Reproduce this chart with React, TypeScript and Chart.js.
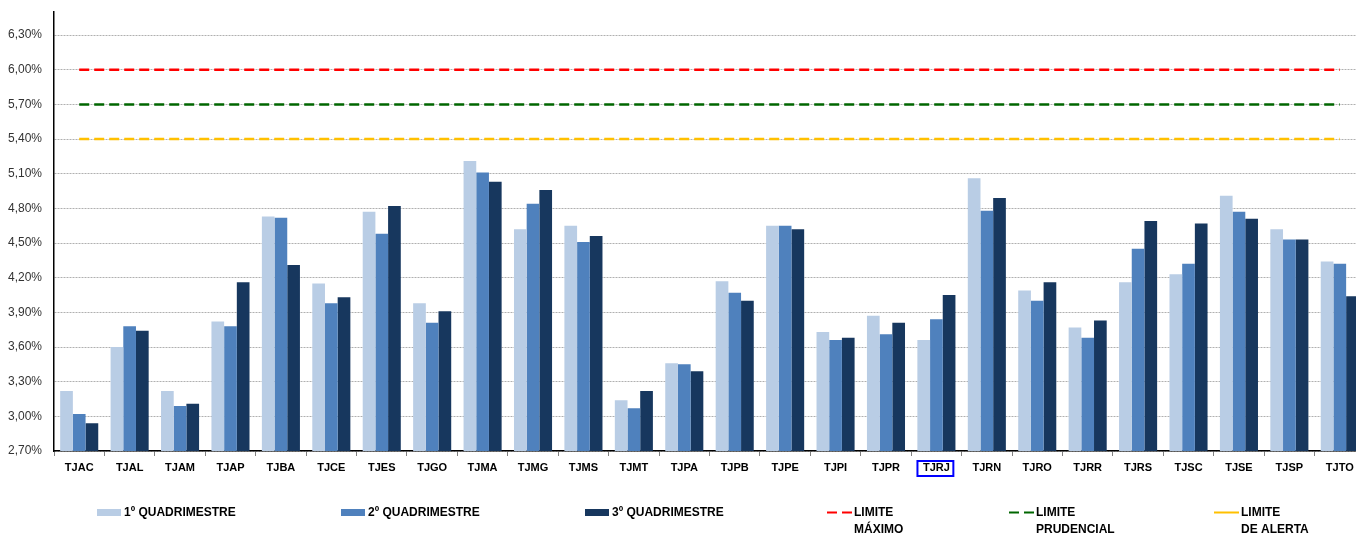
import React, { useEffect, useRef } from 'react';
import { Chart, registerables } from 'chart.js';

Chart.register(...registerables);

const categories = ['TJAC', 'TJAL', 'TJAM', 'TJAP', 'TJBA', 'TJCE', 'TJES', 'TJGO', 'TJMA', 'TJMG', 'TJMS', 'TJMT', 'TJPA', 'TJPB', 'TJPE', 'TJPI', 'TJPR', 'TJRJ', 'TJRN', 'TJRO', 'TJRR', 'TJRS', 'TJSC', 'TJSE', 'TJSP', 'TJTO'];
const q1 = [3.22, 3.60, 3.22, 3.82, 4.73, 4.15, 4.77, 3.98, 5.21, 4.62, 4.65, 3.14, 3.46, 4.17, 4.65, 3.73, 3.87, 3.66, 5.06, 4.09, 3.77, 4.16, 4.23, 4.91, 4.62, 4.34];
const q2 = [3.02, 3.78, 3.09, 3.78, 4.72, 3.98, 4.58, 3.81, 5.11, 4.84, 4.51, 3.07, 3.45, 4.07, 4.65, 3.66, 3.71, 3.84, 4.78, 4.00, 3.68, 4.45, 4.32, 4.77, 4.53, 4.32];
const q3 = [2.94, 3.74, 3.11, 4.16, 4.31, 4.03, 4.82, 3.91, 5.03, 4.96, 4.56, 3.22, 3.39, 4.00, 4.62, 3.68, 3.81, 4.05, 4.89, 4.16, 3.83, 4.69, 4.67, 4.71, 4.53, 4.04];
const limiteMaximo = 6.0;
const limitePrudencial = 5.7;
const limiteAlerta = 5.4;
const yTicks = [2.7, 3.0, 3.3, 3.6, 3.9, 4.2, 4.5, 4.8, 5.1, 5.4, 5.7, 6.0, 6.3];
const yMin = 2.7;
const yMax = 6.5;
const seriesLabels = ['1º QUADRIMESTRE', '2º QUADRIMESTRE', '3º QUADRIMESTRE'];
const limitLabels = [['LIMITE', 'MÁXIMO'], ['LIMITE', 'PRUDENCIAL'], ['LIMITE', 'DE ALERTA']];
const highlighted = 'TJRJ';

const barColors = ['#B9CDE5', '#4F81BD', '#17375E'];
const limitColors = ['#FF0000', '#006600', '#FFC000'];
const FONT = '"Liberation Sans", Arial, sans-serif';

const legendPlugin = {
  id: 'customLegend',
  afterDraw(chart: any) {
    const ctx = chart.ctx;
    ctx.save();
    ctx.font = `bold 12px ${FONT}`;
    ctx.textBaseline = 'middle';
    ctx.textAlign = 'left';
    ctx.fillStyle = '#000';
    const boxX = [97, 341, 585];
    seriesLabels.forEach((lab, i) => {
      ctx.fillStyle = barColors[i];
      ctx.fillRect(boxX[i], 509, 24, 7);
      ctx.fillStyle = '#000';
      ctx.fillText(lab, boxX[i] + 27, 513);
    });
    const lineX = [827, 1009, 1214];
    limitLabels.forEach((lab, i) => {
      ctx.strokeStyle = limitColors[i];
      ctx.lineWidth = 2;
      if (i < 2) ctx.setLineDash([10, 5]);
      else ctx.setLineDash([]);
      ctx.beginPath();
      ctx.moveTo(lineX[i], 512.5);
      ctx.lineTo(lineX[i] + 25, 512.5);
      ctx.stroke();
      ctx.setLineDash([]);
      ctx.fillStyle = '#000';
      ctx.fillText(lab[0], lineX[i] + 27, 513);
      ctx.fillText(lab[1], lineX[i] + 27, 530);
    });
    // highlight box around TJRJ
    const xs = chart.scales.x;
    const idx = categories.indexOf(highlighted);
    const cx = xs.getPixelForTick(idx);
    ctx.font = `bold 11px ${FONT}`;
    const w = ctx.measureText(highlighted).width + 9;
    ctx.strokeStyle = '#0000FF';
    ctx.lineWidth = 2;
    ctx.strokeRect(cx - w / 2 - 1, xs.top + 10, w, 15);
    ctx.restore();
  },
};

export default function App() {
  const ref = useRef<HTMLCanvasElement | null>(null);
  useEffect(() => {
    if (!ref.current) return;
    const limitDs = [limiteMaximo, limitePrudencial, limiteAlerta].map((v, i) => ({
      type: 'line' as const,
      label: limitLabels[i].join(' '),
      data: categories.map(() => v),
      borderColor: limitColors[i],
      borderWidth: 2.5,
      borderDash: [10, 5],
      pointRadius: 0,
      fill: false,
      order: 0,
    }));
    const barDs = [q1, q2, q3].map((d, i) => ({
      type: 'bar' as const,
      label: seriesLabels[i],
      data: d,
      backgroundColor: barColors[i],
      borderWidth: 0,
      categoryPercentage: 0.755,
      barPercentage: 1,
      order: 1,
    }));
    const chart = new Chart(ref.current, {
      data: { labels: categories, datasets: [...limitDs, ...barDs] as any },
      options: {
        responsive: false,
        animation: false,
        layout: { padding: { top: 12, right: 1, left: 0, bottom: 0 } },
        plugins: { legend: { display: false }, tooltip: { enabled: false } },
        scales: {
          x: {
            offset: true,
            grid: { display: true, offset: true, drawOnChartArea: false, drawTicks: true, tickLength: 5, tickColor: '#808080', color: '#808080' },
            border: { display: true, color: '#000', width: 1.5 },
            ticks: { font: { family: FONT, size: 11, weight: 'bold' }, color: '#000', padding: 5, maxRotation: 0, autoSkip: false },
            afterFit: (s: any) => { s.height = 84; s.paddingLeft = 0; s.paddingRight = 0; },
          },
          y: {
            min: yMin,
            max: yMax,
            afterBuildTicks: (s: any) => { s.ticks = yTicks.map((v) => ({ value: v })); },
            grid: { color: '#b0b0b0', lineWidth: 1, drawTicks: false },
            border: { display: true, color: '#000', width: 1.5, dash: [2, 1] },
            ticks: {
              font: { family: FONT, size: 12 },
              color: '#333',
              padding: 12,
              callback: (v: any) => Number(v).toFixed(2).replace('.', ',') + '%',
            },
            afterFit: (s: any) => { s.width = 54; s.paddingTop = 0; s.paddingBottom = 0; },
          },
        },
      },
      plugins: [legendPlugin],
    });
    return () => chart.destroy();
  }, []);
  return (
    <div style={{ position: 'fixed', left: 0, top: 0, right: 0, bottom: 0, overflow: 'hidden', background: '#fff' }}>
      <canvas ref={ref} width={1366} height={535} style={{ width: 1366, height: 535, display: 'block' }} />
    </div>
  );
}
